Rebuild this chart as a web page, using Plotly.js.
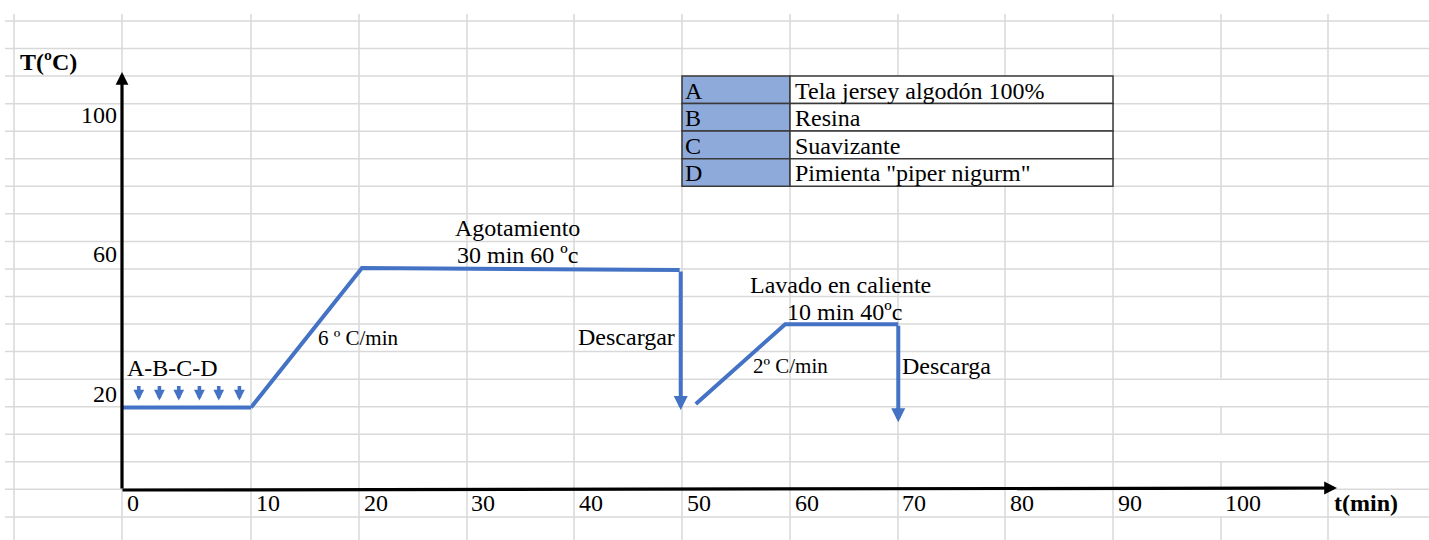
<!DOCTYPE html>
<html>
<head>
<meta charset="utf-8">
<script src="https://cdn.plot.ly/plotly-3.0.1.min.js"></script>
<style>html,body{margin:0;padding:0;background:#fff;}#chart{width:1429px;height:540px;}</style>
</head>
<body>
<div id="chart"></div>
<script>
// ---------- data ----------
const loadT = [0, 10];                 // minutes (first broken-axis part)
const loadTemp = [20, 20];             // °C
const heatT = [10, 20.3, 49.8];        // minutes
const heatTemp = [20, 60, 59.4];       // °C
const washT = [51.3, 59.6, 70.1];
const washTemp = [21.0, 43.9, 43.9];
const dropT = [49.9, 70.1];
const dropFrom = [59.4, 43.9];
const dropTo = [19.3, 15.8];
const dosingT = [1.3, 2.9, 4.4, 6.0, 7.5, 9.1];
const dosingFrom = 26.6, dosingTo = 22.0;
const xTickVals = [0, 10, 20, 30, 40, 50, 60, 70, 80, 90, 100];
const yTickVals = [20, 60, 100];
const tableKeys = ['A', 'B', 'C', 'D'];
const tableItems = ['Tela jersey algodón 100%', 'Resina', 'Suavizante', 'Pimienta "piper nigurm"'];

// ---------- layout helpers ----------
const W = 1429, H = 540;
const px = x => x / W;
const py = y => 1 - y / H;
const FONT = 'Liberation Serif, Times New Roman, serif';
const BLUE = '#4472c4';
const GRID = '#d9d9d9';
const BIG = 24, SMALL = 21;

const shapes = [];
// spreadsheet grid
const colLines = [14, 122, 251, 359, 467, 574, 682, 790, 898, 1005, 1113, 1221, 1328];
for (let y = 21; y <= H; y += 27.55) {
  shapes.push({type: 'line', xref: 'paper', yref: 'paper', x0: px(5), x1: 1, y0: py(y), y1: py(y),
    line: {color: GRID, width: 1.5}, layer: 'below'});
}
colLines.forEach(x => {
  const segs = x === 1221 ? [[14, 378], [407, 433.5], [462, 488.5], [517, 540]] : [[14, 540]];
  segs.forEach(s => shapes.push({type: 'line', xref: 'paper', yref: 'paper', x0: px(x), x1: px(x),
    y0: py(s[0]), y1: py(s[1]), line: {color: GRID, width: 1.5}, layer: 'below'}));
});
// legend table
const tTop = 76, rowH = 27.55, c0 = 682, c1 = 790, c2 = 1113;
tableKeys.forEach((k, i) => {
  const y0 = tTop + i * rowH, y1 = y0 + rowH;
  shapes.push({type: 'rect', xref: 'paper', yref: 'paper', x0: px(c0), x1: px(c1), y0: py(y1), y1: py(y0),
    fillcolor: '#8eaadb', line: {color: '#3a3a3a', width: 1.5}, layer: 'below'});
  shapes.push({type: 'rect', xref: 'paper', yref: 'paper', x0: px(c1), x1: px(c2), y0: py(y1), y1: py(y0),
    fillcolor: '#ffffff', line: {color: '#3a3a3a', width: 1.5}, layer: 'below'});
});

const annotations = [];
const txt = (o) => Object.assign({showarrow: false, yanchor: 'middle', xanchor: 'center',
  font: {family: FONT, size: BIG, color: '#000'}}, o);

// axes arrows
annotations.push({xref: 'paper', yref: 'paper', x: px(122), y: py(72), ax: 0, ay: 418, text: '',
  showarrow: true, arrowhead: 2, arrowsize: 0.8, arrowwidth: 3.2, arrowcolor: '#000'});
annotations.push({xref: 'paper', yref: 'paper', x: px(1337), y: py(488), ax: -1216, ay: 2, text: '',
  showarrow: true, arrowhead: 2, arrowsize: 0.8, arrowwidth: 3.2, arrowcolor: '#000'});

// tick labels
xTickVals.forEach(t => {
  annotations.push(txt({xref: t < 10 ? 'x' : 'x2', yref: 'paper', x: t, y: py(503), text: String(t),
    xanchor: 'left', xshift: 3}));
});
yTickVals.forEach(v => {
  annotations.push(txt({xref: 'x', yref: 'y', x: 0, y: v, text: String(v), xanchor: 'right',
    xshift: -3, yshift: 14}));
});
annotations.push(txt({xref: 'paper', yref: 'paper', x: px(18), y: py(62), text: '<b>T(ºC)</b>', xanchor: 'left'}));
annotations.push(txt({xref: 'x2', yref: 'y', x: 110.4, y: -7.4, text: '<b>t(min)</b>', xanchor: 'left'}));

// process labels
annotations.push(txt({xref: 'x2', yref: 'y', x: 34.7, y: 71.5, text: 'Agotamiento'}));
annotations.push(txt({xref: 'x2', yref: 'y', x: 34.7, y: 63.7, text: '30 min 60 ºc'}));
annotations.push(txt({xref: 'x2', yref: 'y', x: 16.0, y: 39.9, text: '6 º C/min', xanchor: 'left', font: {family: FONT, size: SMALL, color: '#000'}}));
annotations.push(txt({xref: 'x', yref: 'y', x: 0.25, y: 31.3, text: 'A-B-C-D', xanchor: 'left'}));
annotations.push(txt({xref: 'x2', yref: 'y', x: 40.2, y: 40.2, text: 'Descargar', xanchor: 'left'}));
annotations.push(txt({xref: 'x2', yref: 'y', x: 64.7, y: 55.1, text: 'Lavado en caliente'}));
annotations.push(txt({xref: 'x2', yref: 'y', x: 65.1, y: 47.4, text: '10 min 40ºc'}));
annotations.push(txt({xref: 'x2', yref: 'y', x: 56.4, y: 31.9, text: '2º C/min', xanchor: 'left', font: {family: FONT, size: SMALL, color: '#000'}}));
annotations.push(txt({xref: 'x2', yref: 'y', x: 70.3, y: 31.9, text: 'Descarga', xanchor: 'left'}));

// table text
tableKeys.forEach((k, i) => {
  const yc = tTop + i * rowH + rowH / 2 + 1;
  annotations.push(txt({xref: 'paper', yref: 'paper', x: px(c0 + 1), y: py(yc), text: k, xanchor: 'left'}));
  annotations.push(txt({xref: 'paper', yref: 'paper', x: px(c1 + 3), y: py(yc), text: tableItems[i], xanchor: 'left'}));
});

// discharge arrows
dropT.forEach((t, i) => {
  annotations.push({xref: 'x2', yref: 'y', axref: 'x2', ayref: 'y', x: t, y: dropTo[i], ax: t, ay: dropFrom[i],
    text: '', showarrow: true, arrowhead: 2, arrowsize: 0.7, arrowwidth: 4, arrowcolor: BLUE});
});
// dosing arrows
dosingT.forEach(t => {
  annotations.push({xref: 'x', yref: 'y', axref: 'x', ayref: 'y', x: t, y: dosingTo, ax: t, ay: dosingFrom,
    text: '', showarrow: true, arrowhead: 2, arrowsize: 0.6, arrowwidth: 3.6, arrowcolor: BLUE});
});

const lineStyle = {color: BLUE, width: 4};
const traces = [
  {x: loadT, y: loadTemp, xaxis: 'x', yaxis: 'y', mode: 'lines', line: lineStyle, hoverinfo: 'skip'},
  {x: heatT, y: heatTemp, xaxis: 'x2', yaxis: 'y', mode: 'lines', line: lineStyle, hoverinfo: 'skip'},
  {x: washT, y: washTemp, xaxis: 'x2', yaxis: 'y', mode: 'lines', line: lineStyle, hoverinfo: 'skip'}
];

const layout = {
  width: W, height: H, autosize: false,
  margin: {l: 0, r: 0, t: 0, b: 0, pad: 0},
  paper_bgcolor: '#fff', plot_bgcolor: 'rgba(0,0,0,0)',
  showlegend: false,
  xaxis: {domain: [px(122), px(251)], range: [0, 10], visible: false, fixedrange: true},
  xaxis2: {domain: [px(251), 1], range: [10, 10 + (W - 251) / 10.77], visible: false, anchor: 'y', fixedrange: true},
  yaxis: {domain: [0, 1], range: [20 - 132.5 / 3.4875, 20 + 407.5 / 3.4875], visible: false, fixedrange: true},
  shapes: shapes,
  annotations: annotations
};

Plotly.newPlot('chart', traces, layout, {displayModeBar: false, staticPlot: true});
</script>
</body>
</html>
